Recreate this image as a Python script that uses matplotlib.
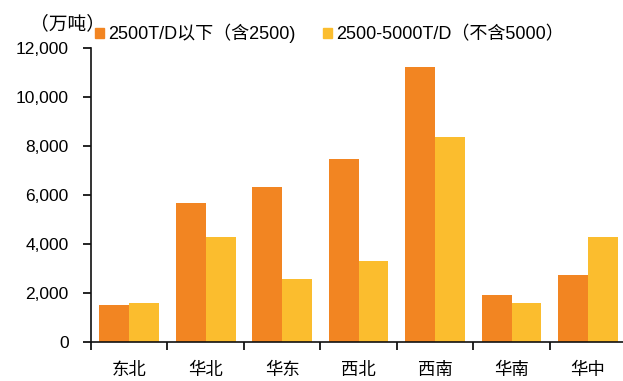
import matplotlib
matplotlib.use("Agg")
import matplotlib.pyplot as plt
from matplotlib.ticker import FuncFormatter, FixedLocator
from matplotlib.patches import Patch
import numpy as np

plt.rcParams["font.family"] = ["Liberation Sans", "Noto Sans CJK SC", "DejaVu Sans"]

regions = ["东北", "华北", "华东", "西北", "西南", "华南", "华中"]
below_2500 = [1510, 5670, 6330, 7470, 11220, 1920, 2730]
mid_2500_5000 = [1590, 4290, 2570, 3310, 8370, 1590, 4290]

orange = "#F28522"
yellow = "#FBBD2E"

fig = plt.figure(figsize=(6.23, 3.81), dpi=100)
ax = fig.add_axes([0.1461, 0.1024, 0.859, 0.7716])

x = np.arange(len(regions))
w = 0.39
ax.bar(x - w / 2, below_2500, width=w, color=orange, zorder=2)
ax.bar(x + w / 2, mid_2500_5000, width=w, color=yellow, zorder=2)

ax.set_xlim(-0.5, len(regions) - 0.5)
ax.set_ylim(0, 12000)
ax.set_yticks(range(0, 12001, 2000))
ax.yaxis.set_major_formatter(FuncFormatter(lambda v, _: f"{int(v):,}"))

# category labels centred, ticks at the boundaries
ax.set_xticks(x)
ax.set_xticklabels(regions, fontsize=12.5, family=["Noto Sans CJK SC", "DejaVu Sans"])
ax.tick_params(axis="x", length=0, pad=14)
ax.xaxis.set_minor_locator(FixedLocator(np.arange(-0.5, len(regions), 1.0)))
ax.tick_params(axis="x", which="minor", length=6, width=1.2, direction="out")
ax.tick_params(axis="y", length=6, width=1.2, direction="out", labelsize=12.5, pad=10)

for side in ("top", "right"):
    ax.spines[side].set_visible(False)
for side in ("left", "bottom"):
    ax.spines[side].set_linewidth(1.2)
    ax.spines[side].set_color("#111111")

fig.text(0.108, 0.937, "（万吨）", fontsize=13.5,
         family=["Noto Sans CJK SC", "DejaVu Sans"], va="center", ha="center")

handles = [Patch(color=orange), Patch(color=yellow)]
labels = ["2500T/D以下（含2500)", "2500-5000T/D（不含5000）"]
fig.legend(handles, labels, loc="center left", bbox_to_anchor=(0.1525, 0.912),
           ncol=2, frameon=False, handlelength=0.5, handleheight=0.5,
           handletextpad=0.25, columnspacing=1.5, borderaxespad=0, borderpad=0,
           prop={"family": ["Liberation Sans", "Noto Sans CJK SC"], "size": 13})

fig.savefig("out.png", dpi=100)
